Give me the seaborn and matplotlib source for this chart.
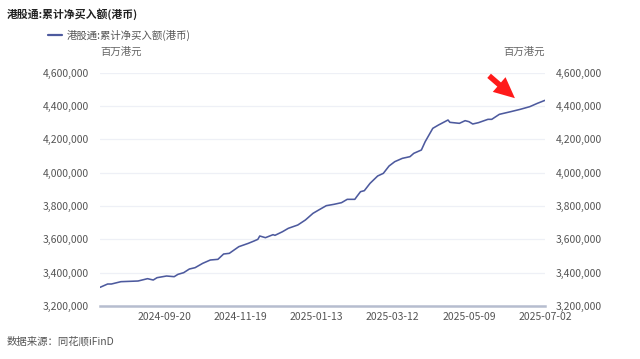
import matplotlib
matplotlib.use('Agg')
import matplotlib.pyplot as plt
import matplotlib.ticker as mticker
import pandas as pd
import seaborn as sns

# trading-day index and cumulative net buying (HKD mn)
day_idx = [0, 4, 6, 11, 20, 25, 28, 30, 35, 39, 41, 44, 47, 50, 54, 58, 62, 65, 68, 70,
           73, 78, 81, 83, 84, 87, 91, 92, 96, 99, 104, 108, 112, 115, 119, 123, 127, 130,
           134, 135, 137, 139, 142, 146, 149, 152, 155, 159, 163, 165, 169, 171, 175, 178,
           183, 184, 189, 192, 194, 196, 199, 204, 206, 210, 216, 221, 226, 230, 234]
net_buy = [3312, 3332, 3332, 3346, 3350, 3364, 3356, 3370, 3380, 3376, 3390, 3400, 3422,
           3430, 3456, 3476, 3480, 3512, 3516, 3532, 3556, 3576, 3590, 3600, 3620, 3610,
           3628, 3624, 3646, 3666, 3686, 3716, 3756, 3776, 3802, 3810, 3820, 3840, 3840,
           3856, 3886, 3892, 3936, 3980, 3996, 4040, 4066, 4086, 4096, 4116, 4136, 4186,
           4266, 4286, 4316, 4302, 4296, 4312, 4306, 4292, 4300, 4320, 4320, 4350, 4366,
           4380, 4396, 4416, 4434]
net_buy = [v * 1000 for v in net_buy]

tick_idx = [34, 74, 114, 154, 194, 234]
tick_labels = ['2024-09-20', '2024-11-19', '2025-01-13', '2025-03-12', '2025-05-09', '2025-07-02']
y_ticks = [3200000, 3400000, 3600000, 3800000, 4000000, 4200000, 4400000, 4600000]

series_name = '港股通:累计净买入额(港币)'
df = pd.DataFrame({'idx': day_idx, 'value': net_buy})

sns.set_style('white')
plt.rcParams['font.family'] = ['Noto Sans CJK SC', 'DejaVu Sans']

fig = plt.figure(figsize=(6.4, 3.59), dpi=100)
ax = fig.add_axes([0.15625, 0.1476, 0.6953, 0.65])

sns.lineplot(data=df, x='idx', y='value', ax=ax, color='#4d5a9e', linewidth=1.15,
             label=series_name, legend=False)

ax.set_xlim(0, 234)
ax.set_ylim(3200000, 4600000)
ax.set_yticks(y_ticks)
ax.yaxis.set_major_formatter(mticker.StrMethodFormatter('{x:,.0f}'))
ax.set_xticks(tick_idx)
ax.set_xticklabels(tick_labels)
ax.set_xlabel('')
ax.set_ylabel('')
ax.grid(axis='y', color='#eef0f6', linewidth=0.9)
ax.grid(axis='x', visible=False)
for s in ['left', 'right', 'top']:
    ax.spines[s].set_visible(False)
ax.spines['bottom'].set_color('#b6bdcf')
ax.spines['bottom'].set_linewidth(1.8)
ax.tick_params(axis='both', length=0, labelsize=7.5, colors='#555555')
ax.tick_params(axis='x', pad=4)
ax.tick_params(axis='y', pad=8)

ax2 = ax.twinx()
ax2.set_ylim(ax.get_ylim())
ax2.set_yticks(y_ticks)
ax2.yaxis.set_major_formatter(mticker.StrMethodFormatter('{x:,.0f}'))
for s in ['left', 'right', 'top', 'bottom']:
    ax2.spines[s].set_visible(False)
ax2.tick_params(axis='y', length=0, labelsize=7.5, colors='#555555', pad=8)
ax2.grid(False)

fig.text(0.01, 1 - 14 / 359, series_name, fontsize=7.8, fontweight='bold', color='#222222', va='center')
fig.lines.append(plt.Line2D([48 / 640, 62 / 640], [1 - 35 / 359] * 2, transform=fig.transFigure,
                            color='#4d5a9e', linewidth=1.6))
fig.text(67 / 640, 1 - 35 / 359, series_name, fontsize=7.5, color='#555555', va='center')
fig.text(100 / 640, 1 - 52 / 359, '百万港元', fontsize=7.5, color='#666666', va='center')
fig.text(545 / 640, 1 - 52 / 359, '百万港元', fontsize=7.5, color='#666666', va='center', ha='right')
fig.text(0.01, 1 - 342 / 359, '数据来源：同花顺iFinD', fontsize=7.5, color='#555555', va='center')

ax.annotate('', xy=(517 / 640, 1 - 100 / 359), xytext=(487 / 640, 1 - 74 / 359),
            xycoords='figure fraction', textcoords='figure fraction',
            arrowprops=dict(arrowstyle='simple,head_length=1.5,head_width=1.4,tail_width=0.4',
                            color='#ff1a1a', lw=0))

fig.savefig('out.png', dpi=100)
